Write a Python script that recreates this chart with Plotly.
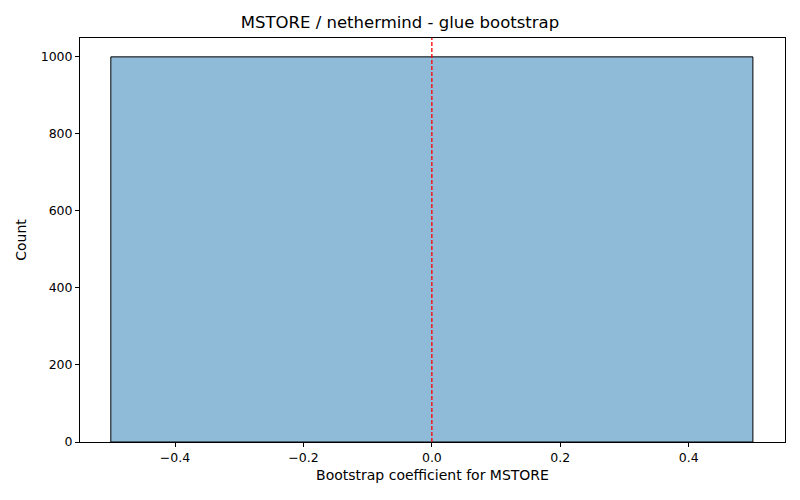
import plotly.graph_objects as go

# histogram of bootstrap coefficients (all samples land in one bin)
bin_left = [-0.5]
bin_right = [0.5]
counts = [1000]
ref_line = 0.0

centers = [(a + b) / 2 for a, b in zip(bin_left, bin_right)]
widths = [b - a for a, b in zip(bin_left, bin_right)]

fig = go.Figure()
fig.add_trace(go.Bar(x=centers, y=counts, width=widths,
                     marker_color='rgba(31,119,180,0.5)',
                     marker_line_color='black', marker_line_width=1))

# dashed reference line at zero
fig.add_shape(type='line', x0=ref_line, x1=ref_line, y0=0, y1=1, yref='paper',
              layer='above', line=dict(color='red', width=1.3, dash='4px,2px'))

axis_style = dict(showline=True, linecolor='black', linewidth=1, mirror=True,
                  ticks='outside', ticklen=4, tickcolor='black',
                  showgrid=False, zeroline=False, tickfont=dict(size=12.5))

fig.update_layout(
    title=dict(text='MSTORE / nethermind - glue bootstrap', x=0.5, xanchor='center',
               y=1 - 22 / 500, yanchor='middle', yref='container', font=dict(size=16.5)),
    font=dict(family='DejaVu Sans', size=12, color='black'),
    plot_bgcolor='white', paper_bgcolor='white',
    width=800, height=500,
    margin=dict(l=80, r=15, t=38, b=58),
    showlegend=False,
    xaxis=dict(axis_style, range=[-0.548, 0.55], tickvals=[-0.4, -0.2, 0.0, 0.2, 0.4],
               ticktext=['\u22120.4', '\u22120.2', '0.0', '0.2', '0.4'],
               title=dict(text='Bootstrap coefficient for MSTORE', standoff=6)),
    yaxis=dict(axis_style, range=[0, 1049], tickvals=[0, 200, 400, 600, 800, 1000],
               title=dict(text='Count', standoff=10)),
)

# drop the browser's default page margin so the figure sits at (0, 0)
fig.write_html("out.html", config={'displayModeBar': False},
               post_script="document.body.style.margin='0';")
